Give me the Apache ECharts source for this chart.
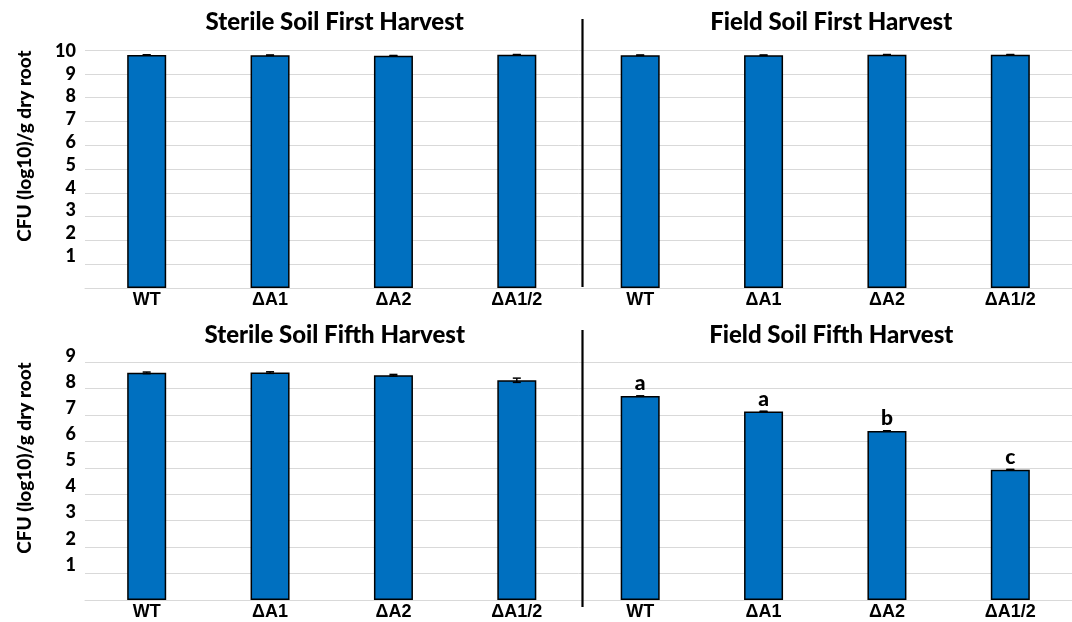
<!DOCTYPE html>
<html>
<head>
<meta charset="utf-8">
<script src="https://cdn.jsdelivr.net/npm/echarts@6/dist/echarts.min.js"></script>
<style>
html,body{margin:0;padding:0;background:#fff;}
#chart{width:1072px;height:622px;}
</style>
</head>
<body>
<div id="chart"></div>
<script>
const categories = ['WT', 'ΔA1', 'ΔA2', 'ΔA1/2'];
const sterileFirst = [9.79, 9.78, 9.76, 9.80];
const sterileFirstErr = [0.01, 0.01, 0.01, 0.01];
const fieldFirst = [9.78, 9.78, 9.80, 9.80];
const fieldFirstErr = [0.01, 0.01, 0.01, 0.01];
const sterileFifth = [8.59, 8.60, 8.50, 8.31];
const sterileFifthErr = [0.03, 0.03, 0.03, 0.08];
const fieldFifth = [7.71, 7.13, 6.39, 4.93];
const fieldFifthErr = [0.01, 0.01, 0.01, 0.01];
const fieldFifthLetters = ['a', 'a', 'b', 'c'];
const panelTitles = ['Sterile Soil First Harvest', 'Field Soil First Harvest', 'Sterile Soil Fifth Harvest', 'Field Soil Fifth Harvest'];
const yAxisTitle = 'CFU (log10)/g dry root';
const yMaxTop = 10;
const yMaxBottom = 9;

const xCats = categories.concat(categories);
const NUM_FONT = 'Lato, "Open Sans", sans-serif';
const LAB_FONT = '"Liberation Sans", Arial, sans-serif';

const GRID_LEFT = 85, GRID_W = 995, GRID_H = 238;
const grids = [
  {left: GRID_LEFT, top: 50, width: GRID_W, height: GRID_H},
  {left: GRID_LEFT, top: 362, width: GRID_W, height: GRID_H},
  // tick-label bands: in the original the printed labels sit slightly above the gridlines
  {left: GRID_LEFT, top: 51, width: GRID_W, height: 228},
  {left: GRID_LEFT, top: 356, width: GRID_W, height: 235}
];

function xAxisFor(i) {
  return {
    type: 'category', gridIndex: i, data: xCats,
    axisLine: {lineStyle: {color: '#D9D9D9', width: 1}},
    axisTick: {show: false},
    axisLabel: {color: '#000', fontFamily: LAB_FONT, fontWeight: 'bold', fontSize: 18, margin: 3}
  };
}
function hiddenX(i) {
  return {type: 'category', gridIndex: i, data: xCats, show: false};
}
function yAxisFor(i, max) {
  return {
    type: 'value', gridIndex: i, min: 0, max: max, interval: 1,
    axisLine: {show: false}, axisTick: {show: false},
    splitLine: {lineStyle: {color: '#D9D9D9', width: 1}},
    axisLabel: {show: false}
  };
}
function yLabelAxisFor(i, max) {
  return {
    type: 'value', gridIndex: i, min: 0, max: max, interval: 1,
    axisLine: {show: false}, axisTick: {show: false}, splitLine: {show: false},
    axisLabel: {color: '#000', fontFamily: NUM_FONT, fontWeight: 900, fontSize: 18, margin: 9,
      formatter: v => v === 0 ? '' : String(v)}
  };
}

function barSeries(i, left, right, letters) {
  const data = left.concat(right).map((v, k) => {
    const item = {value: v};
    if (letters && k >= 4) {
      item.label = {show: true, position: 'top', distance: 2, formatter: letters[k - 4],
        color: '#000', fontFamily: NUM_FONT, fontWeight: 900, fontSize: 21};
    }
    return item;
  });
  return {
    type: 'bar', xAxisIndex: i, yAxisIndex: i, data: data, barWidth: 39,
    itemStyle: {color: '#0070C0', borderColor: '#000', borderWidth: 1.5},
    silent: true
  };
}

function errSeries(i, left, right, lErr, rErr) {
  const vals = left.concat(right), errs = lErr.concat(rErr);
  return {
    type: 'custom', xAxisIndex: i, yAxisIndex: i, z: 5, silent: true,
    data: vals.map((v, k) => [k, v, errs[k]]),
    renderItem: function (params, api) {
      const x = api.value(0), v = api.value(1), e = api.value(2);
      const hi = api.coord([x, v + e]);
      const lo = api.coord([x, v - e]);
      const cw = 4;
      const st = {stroke: '#000', lineWidth: 1.5};
      return {type: 'group', children: [
        {type: 'line', shape: {x1: hi[0], y1: hi[1], x2: lo[0], y2: lo[1]}, style: st},
        {type: 'line', shape: {x1: hi[0] - cw, y1: hi[1], x2: hi[0] + cw, y2: hi[1]}, style: st},
        {type: 'line', shape: {x1: lo[0] - cw, y1: lo[1], x2: lo[0] + cw, y2: lo[1]}, style: st}
      ]};
    }
  };
}

const midX = GRID_LEFT + GRID_W / 2;
const leftC = GRID_LEFT + GRID_W / 4;
const rightC = GRID_LEFT + GRID_W * 3 / 4;
function titleText(txt, x, y) {
  return {type: 'text', x: x, y: y, style: {text: txt, textAlign: 'center', textVerticalAlign: 'middle',
    font: '900 24px ' + NUM_FONT, fill: '#000'}};
}
function yTitle(y) {
  return {type: 'text', x: 25, y: y, rotation: Math.PI / 2,
    style: {text: yAxisTitle, textAlign: 'center', textVerticalAlign: 'middle',
      font: '900 19px ' + NUM_FONT, fill: '#000'}};
}

const chart = echarts.init(document.getElementById('chart'), null, {renderer: 'canvas'});
chart.setOption({
  animation: false,
  backgroundColor: '#fff',
  grid: grids,
  xAxis: [xAxisFor(0), xAxisFor(1), hiddenX(2), hiddenX(3)],
  yAxis: [yAxisFor(0, yMaxTop), yAxisFor(1, yMaxBottom),
          yLabelAxisFor(2, yMaxTop), yLabelAxisFor(3, yMaxBottom)],
  series: [
    barSeries(0, sterileFirst, fieldFirst, null),
    errSeries(0, sterileFirst, fieldFirst, sterileFirstErr, fieldFirstErr),
    barSeries(1, sterileFifth, fieldFifth, fieldFifthLetters),
    errSeries(1, sterileFifth, fieldFifth, sterileFifthErr, fieldFifthErr)
  ],
  graphic: [
    titleText(panelTitles[0], leftC + 1, 22),
    titleText(panelTitles[1], rightC, 22),
    titleText(panelTitles[2], leftC + 1, 335),
    titleText(panelTitles[3], rightC, 335),
    yTitle(146),
    yTitle(458),
    {type: 'line', z: 10, shape: {x1: midX, y1: 19, x2: midX, y2: 287}, style: {stroke: '#000', lineWidth: 2.2}},
    {type: 'line', z: 10, shape: {x1: midX, y1: 330, x2: midX, y2: 607}, style: {stroke: '#000', lineWidth: 2.2}}
  ]
});
</script>
</body>
</html>
